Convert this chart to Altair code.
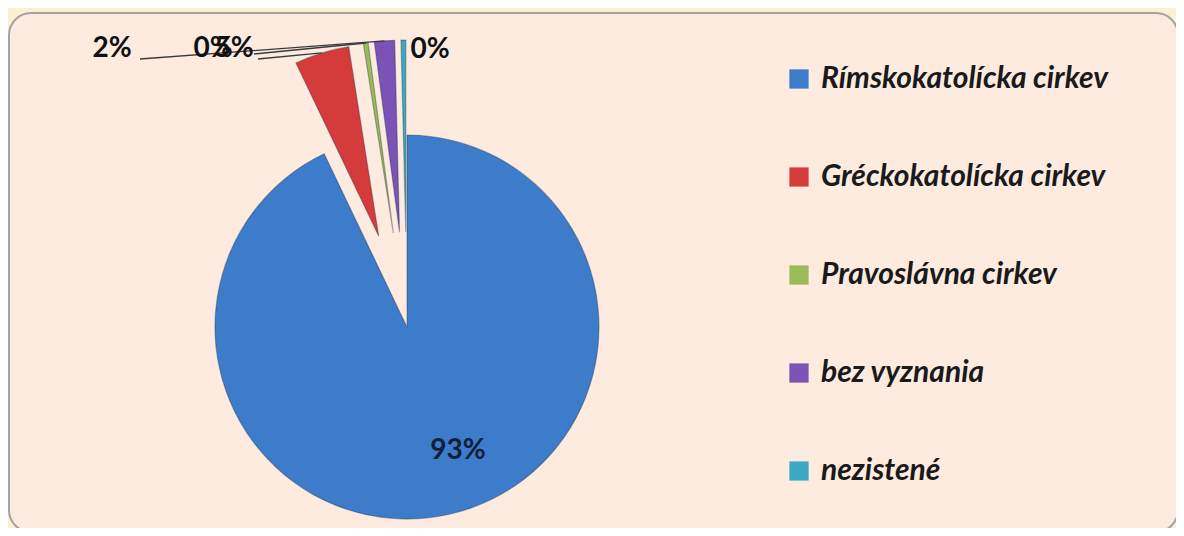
import math
import altair as alt
import pandas as pd

# ---- data ----
categories = ["Rímskokatolícka cirkev", "Gréckokatolícka cirkev", "Pravoslávna cirkev",
              "bez vyznania", "nezistené"]
shares = [92.9, 4.6, 0.4, 1.7, 0.4]
labels = ["93%", "5%", "0%", "2%", "0%"]
colors = ["#3D7BCB", "#D63B3B", "#9BBB59", "#7B52B6", "#3DA8C4"]

# ---- layout (pixels in chart space) ----
W, H = 1168, 520
CX, CY, R = 399, 319, 192
EXPLODE = 95
label_pos = {
    "Rímskokatolícka cirkev": (450, 443),
    "Gréckokatolícka cirkev": (226, 41),
    "Pravoslávna cirkev": (205, 41),
    "bez vyznania": (104, 41),
    "nezistené": (422, 42),
}
leader_start = {
    "Gréckokatolícka cirkev": (250, 51),
    "Pravoslávna cirkev": (246, 46),
    "bez vyznania": (132, 51),
}

df = pd.DataFrame({"cat": categories, "share": shares, "label": labels})
df["idx"] = range(len(df))
df["end"] = df["share"].cumsum()
df["start"] = df["end"] - df["share"]
df["lx"] = [label_pos[c][0] for c in categories]
df["ly"] = [label_pos[c][1] for c in categories]
df["sx"] = [leader_start.get(c, (None, None))[0] for c in categories]
df["sy"] = [leader_start.get(c, (None, None))[1] for c in categories]

base = alt.Chart(df).transform_calculate(
    mid="(datum.start + datum.end) / 200 * 2 * PI",
    d=f"datum.idx == 0 ? 0 : {EXPLODE}",
).transform_calculate(
    cx=f"{CX} + datum.d * sin(datum.mid)",
    cy=f"{CY} - datum.d * cos(datum.mid)",
).transform_calculate(
    ox=f"datum.cx + {R} * sin(datum.mid)",
    oy=f"datum.cy - {R} * cos(datum.mid)",
)

panel = alt.Chart(pd.DataFrame({"a": [0]})).mark_rect(
    fill="#FDEBE0", stroke="#A3A3A3", strokeWidth=2, cornerRadius=22
).encode(x=alt.value(1), x2=alt.value(1170), y=alt.value(5), y2=alt.value(524))

theta_scale = alt.Scale(domain=[0, 100], range=[0, 2 * math.pi])

arcs = base.mark_arc(radius=R, stroke="#1A2A40", strokeOpacity=0.35, strokeWidth=1.2).encode(
    x=alt.X("cx:Q", scale=None),
    y=alt.Y("cy:Q", scale=None),
    theta=alt.Theta("start:Q", scale=theta_scale),
    theta2="end:Q",
    color=alt.Color(
        "cat:N",
        sort=categories,
        scale=alt.Scale(domain=categories, range=colors),
        legend=alt.Legend(
            title=None, orient="none", legendX=776, legendY=56,
            symbolType="square", symbolSize=370, symbolStrokeWidth=0,
            labelFont="Lato", labelFontSize=30, labelFontStyle="italic",
            labelFontWeight="bold", labelColor="#1A1A1A", labelOffset=7,
            rowPadding=68, padding=0, labelLimit=500,
        ),
    ),
)

leaders = base.transform_filter("isValid(datum.sx)").mark_rule(
    color="#3A3A3A", strokeWidth=1.3
).encode(
    x=alt.X("sx:Q", scale=None), y=alt.Y("sy:Q", scale=None),
    x2="ox:Q", y2="oy:Q",
)

texts = base.mark_text(
    font="Lato", fontSize=28, fontWeight="bold", baseline="middle", align="center"
).encode(
    x=alt.X("lx:Q", scale=None),
    y=alt.Y("ly:Q", scale=None),
    text="label:N",
    color=alt.condition("datum.idx == 0", alt.value("#0F1E3A"), alt.value("#111111")),
)

chart = alt.layer(panel, arcs, leaders, texts).properties(
    width=W, height=H, padding=0, autosize=alt.AutoSizeParams(type="none"),
    background="#FCF0D2",
).configure_view(stroke=None)

chart.save("out.html", embed_options={"renderer": "svg", "actions": False})
